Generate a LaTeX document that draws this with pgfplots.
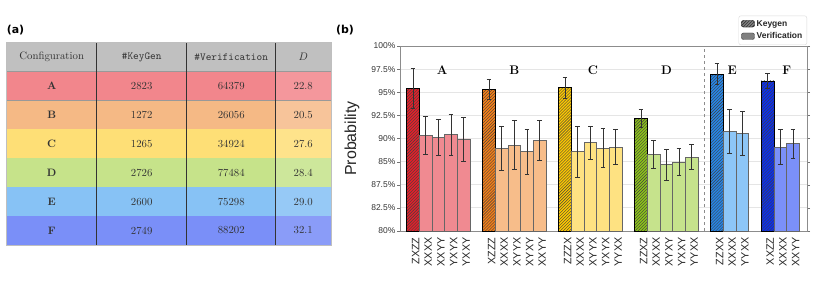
\documentclass[border=0pt]{standalone}
\usepackage{fontspec}
\usepackage{pgfplots}
\usepackage{pgfplotstable}
\pgfplotsset{compat=1.18}
\usetikzlibrary{patterns}
\newfontfamily\dejavu{DejaVu Sans}
\newfontfamily\arial{Liberation Sans}

\definecolor{kA}{HTML}{E3202A}\definecolor{vA}{HTML}{F08A91}
\definecolor{kB}{HTML}{F57F17}\definecolor{vB}{HTML}{F7BD8A}
\definecolor{kC}{HTML}{FDC800}\definecolor{vC}{HTML}{FEE282}
\definecolor{kD}{HTML}{8CC21A}\definecolor{vD}{HTML}{C6E38C}
\definecolor{kE}{HTML}{2586E8}\definecolor{vE}{HTML}{8DC6F7}
\definecolor{kF}{HTML}{0A2EF0}\definecolor{vF}{HTML}{7B90F9}
\definecolor{hdr}{HTML}{C0C0C0}
\definecolor{tA}{HTML}{F2868C}\definecolor{tAl}{HTML}{F4979C}
\definecolor{tB}{HTML}{F5B985}\definecolor{tBl}{HTML}{F7C49A}
\definecolor{tC}{HTML}{FEDF76}\definecolor{tCl}{HTML}{FEE38B}
\definecolor{tD}{HTML}{C6E38A}\definecolor{tDl}{HTML}{CDE79B}
\definecolor{tE}{HTML}{87C2F5}\definecolor{tEl}{HTML}{96C9F6}
\definecolor{tF}{HTML}{7A8FF8}\definecolor{tFl}{HTML}{8A9CF8}

% data: x  y  ep  em
\pgfplotstableread{
x y ep em
0 95.39 2.23 2.17
}\Akg
\pgfplotstableread{
x y ep em
1 90.31 2.12 2.06
2 90.09 2.02 1.95
3 90.41 2.20 2.19
4 89.95 2.37 2.42
}\Avf
\pgfplotstableread{
x y ep em
6 95.28 1.12 1.08
}\Bkg
\pgfplotstableread{
x y ep em
7 88.97 2.38 2.41
8 89.23 2.73 2.56
9 88.58 2.45 2.49
10 89.77 2.19 2.13
}\Bvf
\pgfplotstableread{
x y ep em
12 95.50 1.15 1.16
}\Ckg
\pgfplotstableread{
x y ep em
13 88.58 2.77 2.78
14 89.55 1.80 1.77
15 88.97 2.09 2.09
16 89.05 1.90 1.88
}\Cvf
\pgfplotstableread{
x y ep em
18 92.14 0.98 0.97
}\Dkg
\pgfplotstableread{
x y ep em
19 88.25 1.52 1.51
20 87.17 1.69 1.69
21 87.46 1.51 1.48
22 87.96 1.37 1.33
}\Dvf
\pgfplotstableread{
x y ep em
24 96.94 1.15 1.08
}\Ekg
\pgfplotstableread{
x y ep em
25 90.77 2.35 2.41
26 90.52 2.42 2.38
}\Evf
\pgfplotstableread{
x y ep em
28 96.22 0.79 0.80
}\Fkg
\pgfplotstableread{
x y ep em
29 89.05 1.94 1.88
30 89.44 1.59 1.62
}\Fvf

\pgfplotsset{
  kg/.style={ybar, bar width=1, bar shift=0pt, fill=#1, draw=black, line width=0.7bp,
    postaction={pattern=north east lines, pattern color=black!75}, forget plot},
  vf/.style={ybar, bar width=1, bar shift=0pt, fill=#1, draw=black!60, line width=0.7bp, forget plot},
  eb/.style={sharp plot, draw=none, mark=none, forget plot,
    error bars/.cd, y dir=both, y explicit,
    error bar style={draw=black!80, solid, line width=0.8bp},
    error mark options={rotate=90, draw=black!80, solid, mark size=2.4bp, line width=0.8bp}},
}

\begin{document}
\begin{tikzpicture}[x=1bp,y=1bp]
\useasboundingbox (0,0) rectangle (830,289);

% ---------- (a) table ----------
\node[font=\dejavu\bfseries\fontsize{11}{12}\selectfont] at (15.5,259) {(a)};
\fill[hdr] (6.7,217.3) rectangle (331,246.7);
\begin{scope}[every node/.style={font=\fontsize{10.8}{12}\selectfont, text=black!80}]
\node at (51.7,232) {Configuration};
\node at (141.7,232) {\texttt{\#KeyGen}};
\node at (231.2,232) {\texttt{\#Verification}};
\node at (303.3,232) {$D$};
\foreach \t/\b/\c/\cl/\n/\k/\v/\d in {
  217.3/188.3/tA/tAl/A/2823/64379/22.8,
  188.3/159.7/tB/tBl/B/1272/26056/20.5,
  159.7/130.7/tC/tCl/C/1265/34924/27.6,
  130.7/101.7/tD/tDl/D/2726/77484/28.4,
  101.7/73/tE/tEl/E/2600/75298/29.0,
  73/44/tF/tFl/F/2749/88202/32.1}{
  \fill[\c] (6.7,\b) rectangle (275.7,\t);
  \fill[\cl] (275.7,\b) rectangle (331,\t);
  \draw[black!40, line width=0.6bp] (6.7,\b) -- (331,\b);
  \node at (51.7,{(\t+\b)/2}) {\textbf{\n}};
  \node at (141.7,{(\t+\b)/2}) {\k};
  \node at (231.2,{(\t+\b)/2}) {\v};
  \node at (303.3,{(\t+\b)/2}) {\d};
}
\end{scope}
\draw[black!40, line width=0.6bp] (6.7,217.3) -- (331,217.3);
\foreach \xx in {96.7,186.7,275.7}{\draw[black!80, line width=0.7bp] (\xx,44) -- (\xx,246.7);}
\draw[black!25, line width=0.6bp] (6.7,44) rectangle (331,246.7);

% ---------- (b) chart ----------
\node[font=\dejavu\bfseries\fontsize{11}{12}\selectfont] at (345,259) {(b)};
\begin{axis}[
  at={(400bp,58bp)}, anchor=south west,
  width=407bp, height=185bp, scale only axis,
  xmin=-1.03, xmax=31.1, ymin=80, ymax=100,
  xtick={0,1,2,3,4,6,7,8,9,10,12,13,14,15,16,18,19,20,21,22,24,25,26,28,29,30},
  xticklabels={ZXZZ,XXXX,XXYY,YXYX,YXXY,XZZZ,XXXX,XYYX,XYXY,XXYY,ZZZX,XXXX,XYYX,YXYX,YYXX,ZZXZ,XXXX,XYXY,YXXY,YYXX,ZZXX,XXXX,YYXX,XXZZ,XXXX,XXYY},
  ytick={80,82.5,85,87.5,90,92.5,95,97.5,100},
  yticklabels={80\%,82.5\%,87.5\%,85\%,90\%,92.5\%,95\%,97.5\%,100\%},
  xticklabel style={rotate=90, anchor=east, font=\arial\fontsize{10.8}{11}\selectfont, text=black!85, yshift=-2.5bp},
  yticklabel style={font=\arial\fontsize{8.5}{9}\selectfont, text=black!80, inner sep=1.5bp},
  x tick style={draw=none},
  y tick style={black!55},
  major tick length=3bp, tick align=outside,
  ymajorgrids, grid style={black!10, line width=0.8bp},
  axis line style={black!45, line width=0.8bp},
  ylabel={Probability},
  every axis y label/.style={at={(axis description cs:-0.118,0.5)}, rotate=90, anchor=center, font=\arial\fontsize{16}{17}\selectfont, text=black!85},
  legend style={at={(1,1)}, anchor=south east, yshift=1bp, draw=black!15, rounded corners=2bp,
    font=\arial\bfseries\fontsize{8.5}{9}\selectfont, text=black!85, row sep=1bp, inner sep=2.5bp},
  legend cell align=left,
  clip=true,
]
\addlegendimage{legend image code/.code={\draw[fill=black!50, draw=black!80, postaction={pattern=north east lines, pattern color=black!85}] (0bp,-3bp) rectangle (13bp,3.5bp);}}
\addlegendentry{Keygen}
\addlegendimage{legend image code/.code={\draw[fill=black!50, draw=black!80] (0bp,-3bp) rectangle (13bp,3.5bp);}}
\addlegendentry{Verification}

\addplot[kg=kA] table[x=x,y=y] {\Akg};
\addplot[vf=vA] table[x=x,y=y] {\Avf};
\addplot[kg=kB] table[x=x,y=y] {\Bkg};
\addplot[vf=vB] table[x=x,y=y] {\Bvf};
\addplot[kg=kC] table[x=x,y=y] {\Ckg};
\addplot[vf=vC] table[x=x,y=y] {\Cvf};
\addplot[kg=kD] table[x=x,y=y] {\Dkg};
\addplot[vf=vD] table[x=x,y=y] {\Dvf};
\addplot[kg=kE] table[x=x,y=y] {\Ekg};
\addplot[vf=vE] table[x=x,y=y] {\Evf};
\addplot[kg=kF] table[x=x,y=y] {\Fkg};
\addplot[vf=vF] table[x=x,y=y] {\Fvf};

\addplot[eb] table[x=x,y=y,y error plus=ep,y error minus=em] {\Akg};
\addplot[eb] table[x=x,y=y,y error plus=ep,y error minus=em] {\Avf};
\addplot[eb] table[x=x,y=y,y error plus=ep,y error minus=em] {\Bkg};
\addplot[eb] table[x=x,y=y,y error plus=ep,y error minus=em] {\Bvf};
\addplot[eb] table[x=x,y=y,y error plus=ep,y error minus=em] {\Ckg};
\addplot[eb] table[x=x,y=y,y error plus=ep,y error minus=em] {\Cvf};
\addplot[eb] table[x=x,y=y,y error plus=ep,y error minus=em] {\Dkg};
\addplot[eb] table[x=x,y=y,y error plus=ep,y error minus=em] {\Dvf};
\addplot[eb] table[x=x,y=y,y error plus=ep,y error minus=em] {\Ekg};
\addplot[eb] table[x=x,y=y,y error plus=ep,y error minus=em] {\Evf};
\addplot[eb] table[x=x,y=y,y error plus=ep,y error minus=em] {\Fkg};
\addplot[eb] table[x=x,y=y,y error plus=ep,y error minus=em] {\Fvf};

\draw[black!45, dashed, line width=0.7bp] (axis cs:23,80) -- (axis cs:23,100);
\begin{scope}[every node/.style={font=\bfseries\fontsize{12.5}{13}\selectfont}]
\node at (axis cs:2.3,97.4) {A};
\node at (axis cs:8,97.4) {B};
\node at (axis cs:14.2,97.4) {C};
\node at (axis cs:20,97.4) {D};
\node at (axis cs:25.2,97.4) {E};
\node at (axis cs:29.5,97.4) {F};
\end{scope}
\end{axis}
\end{tikzpicture}
\end{document}
